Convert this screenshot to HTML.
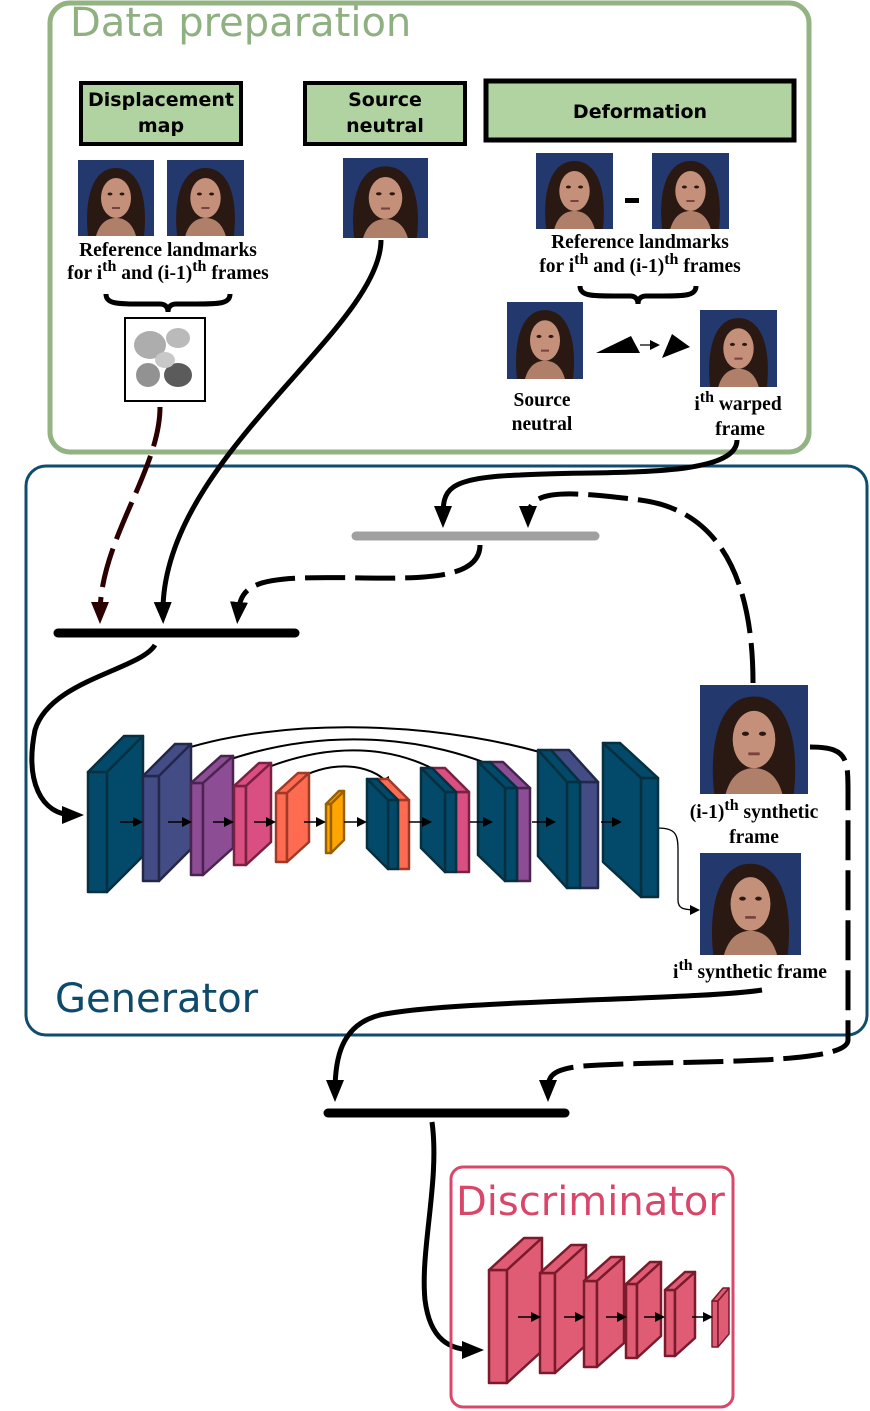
<!DOCTYPE html>
<html><head><meta charset="utf-8"><style>
html,body{margin:0;padding:0;background:#fff}
svg{display:block}
.lb{font-family:"Liberation Serif",serif;font-weight:bold;font-size:19.5px;fill:#000}
.bx{font-family:"DejaVu Sans","Liberation Sans",sans-serif;font-weight:bold;font-size:19px;fill:#000}
</style></head><body>
<svg width="870" height="1411" viewBox="0 0 870 1411" xmlns="http://www.w3.org/2000/svg">
<defs>
<symbol id="face" viewBox="0 0 76 76" preserveAspectRatio="none">
<rect width="76" height="76" fill="#23386c"/>
<path d="M10,76 C6,40 14,8 38,8 C62,8 70,40 66,76 Z" fill="#2a1812"/>
<ellipse cx="38" cy="38" rx="15" ry="20" fill="#c49079"/>
<path d="M18,76 C22,62 30,58 38,58 C46,58 54,62 58,76 Z" fill="#b07f6a"/>
<ellipse cx="32" cy="34" rx="2.5" ry="1.5" fill="#2a1812"/>
<ellipse cx="44" cy="34" rx="2.5" ry="1.5" fill="#2a1812"/>
<rect x="34" y="47" width="8" height="2" fill="#7a4040"/>
</symbol>
<marker id="ah" markerWidth="22" markerHeight="18" refX="12" refY="9" orient="auto" markerUnits="userSpaceOnUse" viewBox="0 0 22 18"><path d="M0,0 L22,9 L0,18 Z" fill="#000"/></marker>
<marker id="ahr" markerWidth="22" markerHeight="18" refX="12" refY="9" orient="auto" markerUnits="userSpaceOnUse" viewBox="0 0 22 18"><path d="M0,0 L22,9 L0,18 Z" fill="#2a0000"/></marker>
<marker id="sa" markerWidth="10" markerHeight="10" refX="8" refY="5" orient="auto" markerUnits="userSpaceOnUse"><path d="M0,0 L10,5 L0,10 Z" fill="#000"/></marker>
</defs>

<rect x="50" y="3" width="759" height="449" rx="20" fill="none" stroke="#93b383" stroke-width="5"/>
<text x="70" y="36" font-family="DejaVu Sans,Liberation Sans,sans-serif" font-size="40" fill="#8fb080">Data preparation</text>
<rect x="81" y="83" width="160" height="61" fill="#b1d3a1" stroke="#000" stroke-width="4"/>
<text class="bx" x="161" y="106" text-anchor="middle">Displacement</text>
<text class="bx" x="161" y="132" text-anchor="middle">map</text>
<rect x="305" y="83" width="160" height="61" fill="#b1d3a1" stroke="#000" stroke-width="4"/>
<text class="bx" x="385" y="106" text-anchor="middle">Source</text>
<text class="bx" x="385" y="132" text-anchor="middle">neutral</text>
<rect x="486" y="81" width="308" height="59" fill="#b1d3a1" stroke="#000" stroke-width="5"/>
<text class="bx" x="640" y="118" text-anchor="middle">Deformation</text>

<use href="#face" x="78" y="160" width="76" height="76"/>
<use href="#face" x="167" y="160" width="77" height="76"/>
<use href="#face" x="343" y="158" width="85" height="80"/>
<use href="#face" x="536" y="153" width="77" height="76"/>
<use href="#face" x="652" y="153" width="77" height="76"/>
<use href="#face" x="507" y="302" width="76" height="77"/>
<use href="#face" x="700" y="310" width="77" height="77"/>
<rect x="625" y="198" width="14" height="5" fill="#000"/>

<text class="lb" x="168" y="256" text-anchor="middle">Reference landmarks</text>
<text class="lb" x="168" y="279" text-anchor="middle">for i<tspan dy="-8" font-size="16">th</tspan><tspan dy="8"> and (i-1)</tspan><tspan dy="-8" font-size="16">th</tspan><tspan dy="8"> frames</tspan></text>
<text class="lb" x="640" y="248" text-anchor="middle">Reference landmarks</text>
<text class="lb" x="640" y="272" text-anchor="middle">for i<tspan dy="-8" font-size="16">th</tspan><tspan dy="8"> and (i-1)</tspan><tspan dy="-8" font-size="16">th</tspan><tspan dy="8"> frames</tspan></text>

<path d="M106,294 C106,304 118,304 140,304 L160,304 C166,304 168,308 168,312 C168,308 170,304 176,304 L196,304 C218,304 230,304 230,294" fill="none" stroke="#000" stroke-width="5"/>
<path d="M580,286 C580,296 592,296 614,296 L630,296 C636,296 638,300 638,304 C638,300 640,296 646,296 L662,296 C684,296 696,296 696,286" fill="none" stroke="#000" stroke-width="5"/>

<rect x="125" y="318" width="80" height="83" fill="#fff" stroke="#000" stroke-width="2"/>
<g opacity="0.8">
<ellipse cx="150" cy="345" rx="16" ry="14" fill="#999"/>
<ellipse cx="178" cy="338" rx="12" ry="10" fill="#aaa"/>
<ellipse cx="148" cy="375" rx="12" ry="12" fill="#777"/>
<ellipse cx="178" cy="375" rx="14" ry="12" fill="#333"/>
<ellipse cx="165" cy="360" rx="10" ry="8" fill="#bbb"/>
</g>

<polygon points="596,353 631,336 640,353" fill="#000"/>
<line x1="640" y1="345" x2="658" y2="345" stroke="#000" stroke-width="1.2" marker-end="url(#sa)"/>
<polygon points="662,358 672,334 690,347" fill="#000"/>

<text class="lb" x="542" y="406" text-anchor="middle">Source</text>
<text class="lb" x="542" y="430" text-anchor="middle">neutral</text>
<text class="lb" x="738" y="410" text-anchor="middle">i<tspan dy="-8" font-size="16">th</tspan><tspan dy="8"> warped</tspan></text>
<text class="lb" x="740" y="435" text-anchor="middle">frame</text>

<rect x="26" y="466" width="841" height="569" rx="20" fill="none" stroke="#0e4d6e" stroke-width="3"/>
<text x="55" y="1012" font-family="DejaVu Sans,Liberation Sans,sans-serif" font-size="40" fill="#0d4a6b">Generator</text>

<line x1="356" y1="536" x2="595" y2="536" stroke="#a0a0a0" stroke-width="9" stroke-linecap="round"/>
<line x1="58" y1="633" x2="295" y2="633" stroke="#000" stroke-width="9" stroke-linecap="round"/>
<line x1="328" y1="1113" x2="565" y2="1113" stroke="#000" stroke-width="9" stroke-linecap="round"/>

<g fill="none" stroke-width="5">
<path d="M160,407 C160,470 100,540 100,614" stroke="#2a0000" stroke-dasharray="40,10" marker-end="url(#ahr)"/>
<path d="M381,240 C381,330 160,460 163,614" stroke="#000" marker-end="url(#ah)"/>
<path d="M480,545 C480,590 380,575 300,578 C250,580 240,590 238,614" stroke="#000" stroke-dasharray="40,10" marker-end="url(#ah)"/>
<path d="M737,440 C737,480 600,470 520,475 C445,478 443,490 443,518" stroke="#000" marker-end="url(#ah)"/>
<path d="M753,683 C753,580 720,510 640,500 C560,490 528,490 528,518" stroke="#000" stroke-dasharray="40,10" marker-end="url(#ah)"/>
<path d="M155,645 C140,670 50,680 35,730 C25,780 40,815 74,815" stroke="#000" marker-end="url(#ah)"/>
<path d="M762,990 C700,1000 450,1000 380,1015 C340,1025 335,1060 335,1092" stroke="#000" marker-end="url(#ah)"/>
<path d="M810,747 C850,747 848,760 848,800 L848,1040 C848,1065 700,1060 600,1065 C550,1067 548,1075 548,1092" stroke="#000" stroke-dasharray="40,10" marker-end="url(#ah)"/>
<path d="M432,1122 C440,1180 420,1250 425,1300 C430,1340 450,1350 474,1350" stroke="#000" marker-end="url(#ah)"/>
</g>
<path d="M658,828 C676,828 678,835 678,850 L678,900 C678,908 682,910 698,910" fill="none" stroke="#000" stroke-width="1.3" marker-end="url(#sa)"/>

<g fill="none" stroke="#000" stroke-width="2">
<path d="M172,753 C280,715 450,720 572,762" marker-end="url(#sa)"/>
<path d="M214,765 C320,725 430,735 509,773" marker-end="url(#sa)"/>
<path d="M254,773 C340,735 410,750 451,780" marker-end="url(#sa)"/>
<path d="M294,781 C330,760 370,762 390,785" marker-end="url(#sa)"/>
</g>

<g stroke-width="2.5" stroke-linejoin="round">
<g fill="#034a6a" stroke="#062f40"><rect x="88" y="772" width="19" height="120"/><polygon points="88,772 124,736 143,736 107,772"/><polygon points="107,772 143,736 143,856 107,892"/></g>
<g fill="#444c85" stroke="#23284a"><rect x="143" y="776" width="16" height="105"/><polygon points="143,776 175,744 191,744 159,776"/><polygon points="159,776 191,744 191,849 159,881"/></g>
<g fill="#8c4d95" stroke="#4a2450"><rect x="191" y="783" width="12" height="92"/><polygon points="191,783 221,756 233,756 203,783"/><polygon points="203,783 233,756 233,848 203,875"/></g>
<g fill="#d94f81" stroke="#7a2040"><rect x="234" y="786" width="12" height="79"/><polygon points="234,786 259,763 271,763 246,786"/><polygon points="246,786 271,763 271,842 246,865"/></g>
<g fill="#ff6b50" stroke="#a03a28"><rect x="276" y="793" width="11" height="69"/><polygon points="276,793 298,773 309,773 287,793"/><polygon points="287,793 309,773 309,842 287,862"/></g>
<g fill="#ffa500" stroke="#9a6000"><rect x="326" y="804" width="5" height="49"/><polygon points="326,804 339,791 344,791 331,804"/><polygon points="331,804 344,791 344,840 331,853"/></g>

<g fill="#ff6b50" stroke="#a03a28"><rect x="398" y="800" width="11" height="69"/><polygon points="398,800 377,779 388,779 409,800"/></g>
<g fill="#034a6a" stroke="#062f40"><rect x="388" y="800" width="10" height="69"/><polygon points="388,800 367,779 377,779 398,800"/><polygon points="388,800 367,779 367,848 388,869"/></g>
<g fill="#d94f81" stroke="#7a2040"><rect x="456" y="792" width="13" height="80"/><polygon points="456,792 432,768 445,768 469,792"/></g>
<g fill="#034a6a" stroke="#062f40"><rect x="445" y="792" width="11" height="80"/><polygon points="445,792 421,768 432,768 456,792"/><polygon points="445,792 421,768 421,848 445,872"/></g>
<g fill="#8c4d95" stroke="#4a2450"><rect x="517" y="788" width="13" height="93"/><polygon points="517,788 490,762 503,762 530,788"/></g>
<g fill="#034a6a" stroke="#062f40"><rect x="505" y="788" width="12" height="93"/><polygon points="505,788 478,762 490,762 517,788"/><polygon points="505,788 478,762 478,855 505,881"/></g>
<g fill="#444c85" stroke="#23284a"><rect x="580" y="782" width="18" height="106"/><polygon points="580,782 551,750 569,750 598,782"/></g>
<g fill="#034a6a" stroke="#062f40"><rect x="567" y="782" width="13" height="106"/><polygon points="567,782 538,750 551,750 580,782"/><polygon points="567,782 538,750 538,856 567,888"/></g>
<g fill="#034a6a" stroke="#062f40"><rect x="641" y="778" width="17" height="119"/><polygon points="641,778 603,743 620,743 658,778"/><polygon points="641,778 603,743 603,862 641,897"/></g>
</g>
<g stroke="#000" stroke-width="1.5" marker-end="url(#sa)">
<line x1="120" y1="822" x2="141" y2="822"/><line x1="168" y1="822" x2="190" y2="822"/>
<line x1="213" y1="822" x2="232" y2="822"/><line x1="254" y1="822" x2="274" y2="822"/>
<line x1="304" y1="822" x2="324" y2="822"/><line x1="344" y1="822" x2="365" y2="822"/>
<line x1="409" y1="822" x2="430" y2="822"/><line x1="470" y1="822" x2="491" y2="822"/>
<line x1="532" y1="822" x2="554" y2="822"/><line x1="601" y1="822" x2="620" y2="822"/>
</g>

<use href="#face" x="700" y="685" width="108" height="109"/>
<use href="#face" x="700" y="853" width="101" height="102"/>
<text class="lb" x="754" y="818" text-anchor="middle">(i-1)<tspan dy="-8" font-size="16">th</tspan><tspan dy="8"> synthetic</tspan></text>
<text class="lb" x="754" y="843" text-anchor="middle">frame</text>
<text class="lb" x="750" y="978" text-anchor="middle" font-size="20.5">i<tspan dy="-8" font-size="16">th</tspan><tspan dy="8"> synthetic frame</tspan></text>

<rect x="451" y="1167" width="282" height="240" rx="12" fill="none" stroke="#d9486a" stroke-width="3"/>
<text x="456" y="1215" font-family="DejaVu Sans,Liberation Sans,sans-serif" font-size="40" fill="#d9466a">Discriminator</text>
<g fill="#e05c75" stroke="#7a1a2c" stroke-width="2.5" stroke-linejoin="round">
<rect x="489" y="1270" width="18" height="113"/><polygon points="489,1270 524,1238 542,1238 507,1270"/><polygon points="507,1270 542,1238 542,1351 507,1383"/>
<rect x="540" y="1273" width="15" height="100"/><polygon points="540,1273 571,1245 586,1245 555,1273"/><polygon points="555,1273 586,1245 586,1345 555,1373"/>
<rect x="584" y="1281" width="13" height="86"/><polygon points="584,1281 611,1257 624,1257 597,1281"/><polygon points="597,1281 624,1257 624,1343 597,1367"/>
<rect x="626" y="1284" width="11" height="74"/><polygon points="626,1284 650,1262 661,1262 637,1284"/><polygon points="637,1284 661,1262 661,1336 637,1358"/>
<rect x="665" y="1290" width="10" height="66"/><polygon points="665,1290 685,1272 695,1272 675,1290"/><polygon points="675,1290 695,1272 695,1338 675,1356"/>
<rect x="712" y="1301" width="6" height="46" stroke-width="1.5"/><polygon points="712,1301 723,1288 729,1288 718,1301" stroke-width="1.5"/><polygon points="718,1301 729,1288 729,1334 718,1347" stroke-width="1.5"/>
</g>
<g stroke="#000" stroke-width="1.5" marker-end="url(#sa)">
<line x1="518" y1="1317" x2="539" y2="1317"/><line x1="564" y1="1317" x2="583" y2="1317"/>
<line x1="606" y1="1317" x2="625" y2="1317"/><line x1="644" y1="1317" x2="663" y2="1317"/>
<line x1="692" y1="1317" x2="711" y2="1317"/>
</g>
</svg>
</body></html>
